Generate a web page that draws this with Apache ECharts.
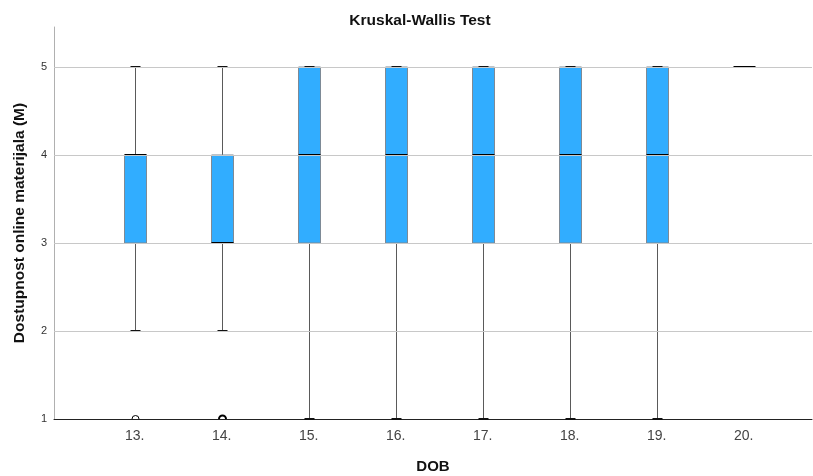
<!DOCTYPE html>
<html>
<head>
<meta charset="utf-8">
<script src="https://cdn.jsdelivr.net/npm/echarts@6/dist/echarts.min.js"></script>
<style>html,body{margin:0;padding:0;background:#fff;}#c{width:813px;height:476px;}</style>
</head>
<body>
<div id="c"></div>
<script>
var categories = ['13.', '14.', '15.', '16.', '17.', '18.', '19.', '20.'];
var whiskerLow  = [2, 2, 1, 1, 1, 1, 1, 5];
var q1          = [3, 3, 3, 3, 3, 3, 3, 5];
var medians     = [4, 3, 4, 4, 4, 4, 4, 5];
var q3          = [4, 4, 5, 5, 5, 5, 5, 5];
var whiskerHigh = [5, 5, 5, 5, 5, 5, 5, 5];
var outlierCat   = [0, 1];
var outlierValue = [1, 1];
var outlierCount = [1, 2];
var yTicks = [1, 2, 3, 4, 5];

var boxData = categories.map(function (c, i) {
  return [i, whiskerLow[i], q1[i], medians[i], q3[i], whiskerHigh[i]];
});
var outData = outlierCat.map(function (c, i) { return [c, outlierValue[i], outlierCount[i]]; });

var chart = echarts.init(document.getElementById('c'), null, {renderer: 'canvas'});
var FONT = 'Liberation Sans, Arial, sans-serif';

function renderBox(params, api) {
  var x = api.value(0);
  var pMin = api.coord([x, api.value(1)]);
  var pQ1 = api.coord([x, api.value(2)]);
  var pMed = api.coord([x, api.value(3)]);
  var pQ3 = api.coord([x, api.value(4)]);
  var pMax = api.coord([x, api.value(5)]);
  var cx = Math.round(pMin[0]) + 0.5;
  var bw = 22, cw = 10;
  var children = [];
  if (pMin[1] - pQ1[1] > 0.5) {
    children.push({type: 'line', shape: {x1: cx, y1: pMin[1], x2: cx, y2: pQ1[1]}, style: {stroke: '#5a5a5a', lineWidth: 1}});
  }
  if (pQ3[1] - pMax[1] > 0.5) {
    children.push({type: 'line', shape: {x1: cx, y1: pQ3[1], x2: cx, y2: pMax[1]}, style: {stroke: '#5a5a5a', lineWidth: 1}});
  }
  if (pQ1[1] - pQ3[1] > 0.5) {
    children.push({type: 'rect', shape: {x: cx - bw / 2, y: pQ3[1], width: bw, height: pQ1[1] - pQ3[1]},
      style: {fill: '#31ADFF', stroke: '#7d8a96', lineWidth: 1}});
  }
  children.push({type: 'line', shape: {x1: cx - cw / 2, y1: pMax[1], x2: cx + cw / 2, y2: pMax[1]}, style: {stroke: '#111', lineWidth: 2}});
  children.push({type: 'line', shape: {x1: cx - cw / 2, y1: pMin[1], x2: cx + cw / 2, y2: pMin[1]}, style: {stroke: '#111', lineWidth: 2}});
  children.push({type: 'line', shape: {x1: cx - bw / 2, y1: pMed[1], x2: cx + bw / 2, y2: pMed[1]}, style: {stroke: '#000', lineWidth: 2}});
  return {type: 'group', children: children};
}

function renderOutlier(params, api) {
  var p = api.coord([api.value(0), api.value(1)]);
  var n = api.value(2);
  return {
    type: 'arc',
    shape: {cx: Math.round(p[0]) + 0.5, cy: p[1], r: 3.5, startAngle: Math.PI, endAngle: 2 * Math.PI},
    style: {stroke: '#000', fill: null, lineWidth: n > 1 ? 2 : 1}
  };
}

var option = {
  backgroundColor: '#fff',
  animation: false,
  title: {
    text: 'Kruskal-Wallis Test',
    left: 415, top: 8, textAlign: 'center',
    textStyle: {fontFamily: FONT, fontSize: 15.5, fontWeight: 'bold', color: '#111'}
  },
  grid: {left: 54, right: 1, top: 27, bottom: 57, outerBoundsMode: 'none', containLabel: false},
  xAxis: {
    type: 'value',
    min: -0.928, max: 7.785,
    name: 'DOB', nameLocation: 'middle', nameGap: 40,
    nameTextStyle: {fontFamily: FONT, fontSize: 15, fontWeight: 'bold', color: '#111'},
    axisLine: {show: true, onZero: false, lineStyle: {color: '#222', width: 1}},
    axisTick: {show: false},
    splitLine: {show: false},
    axisLabel: {
      customValues: categories.map(function (c, i) { return i; }),
      formatter: function (v) { return categories[Math.round(v)]; },
      fontFamily: FONT, fontSize: 14, color: '#444', margin: 10
    }
  },
  yAxis: {
    type: 'value',
    min: 1, max: 5.4545,
    name: 'Dostupnost online materijala (M)', nameLocation: 'middle', nameGap: 26,
    nameTextStyle: {fontFamily: FONT, fontSize: 15.5, fontWeight: 'bold', color: '#111'},
    axisLine: {show: true, onZero: false, lineStyle: {color: '#b0b0b0', width: 1}},
    axisTick: {show: false},
    axisLabel: {
      customValues: yTicks,
      fontFamily: FONT, fontSize: 11, color: '#333', margin: 7
    },
    splitLine: {show: false}
  },
  series: [
    {
      type: 'line',
      data: [],
      markLine: {
        silent: true, symbol: 'none', label: {show: false},
        lineStyle: {color: '#c8c8c8', width: 1, type: 'solid'},
        data: yTicks.slice(1).map(function (t) { return {yAxis: t}; })
      }
    },
    {
      type: 'custom',
      renderItem: renderBox,
      data: boxData,
      encode: {x: 0, y: [1, 2, 3, 4, 5]},
      z: 3
    },
    {
      type: 'custom',
      renderItem: renderOutlier,
      data: outData,
      encode: {x: 0, y: 1},
      z: 4
    }
  ]
};
chart.setOption(option);
</script>
</body>
</html>
